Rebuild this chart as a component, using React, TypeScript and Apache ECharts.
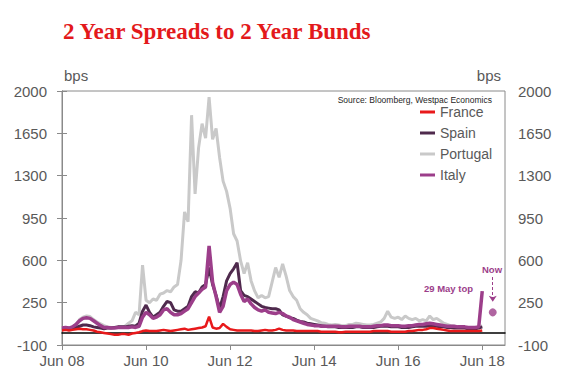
import React, { useEffect, useRef } from 'react';
import * as echarts from 'echarts';

// x = months since Jun 2008 (monthly observations)
const tickMonths = [0, 24, 48, 72, 96, 120];
const tickLabels = ['Jun 08', 'Jun 10', 'Jun 12', 'Jun 14', 'Jun 16', 'Jun 18'];
const yMin = -100;
const yMax = 2000;
const yStep = 350;

const france = [
  20, 25, 20, 25, 30, 35, 30, 30, 25, 20, 10, 5,
  0, -5, -10, -15, -15, -10, -10, -15, -5, 0, 5, 15,
  20, 15, 15, 15, 20, 25, 20, 15, 20, 25, 30, 35,
  25, 30, 35, 40, 45, 55, 135, 45, 35, 40, 75, 50,
  30, 25, 20, 20, 20, 20, 20, 15, 15, 20, 25, 20,
  20, 25, 35, 25, 20, 20, 20, 15, 15, 15, 15, 15,
  15, 15, 10, 10, 10, 10, 10, 5, 5, 10, 10, 10,
  10, 10, 10, 10, 10, 15, 15, 15, 15, 15, 10, 10,
  10, 10, 10, 15, 15, 20, 25, 25, 30, 40, 40, 35,
  30, 25, 20, 15, 15, 15, 15, 15, 15, 15, 15, 15,
  20,
];

const spain = [
  30, 35, 30, 35, 45, 55, 65, 65, 60, 50, 45, 40,
  35, 40, 40, 45, 50, 50, 50, 55, 60, 55, 80, 180,
  230, 170, 130, 150, 170, 220, 260, 250, 190, 180, 180, 200,
  220, 300, 340, 330, 380, 400, 540, 400, 310, 200, 300, 430,
  490, 530, 580, 350, 310, 300, 280, 260, 240, 220, 210, 205,
  200, 200, 190, 150, 140, 125, 120, 105, 95, 90, 80, 75,
  70, 65, 60, 55, 50, 50, 50, 45, 45, 45, 45, 45,
  50, 50, 45, 45, 45, 45, 50, 55, 55, 55, 50, 50,
  50, 45, 45, 45, 50, 55, 55, 55, 55, 60, 55, 55,
  50, 50, 45, 45, 40, 40, 40, 40, 35, 35, 35, 40,
  50,
];

const portugal = [
  40, 45, 40, 50, 70, 110, 130, 140, 135, 110, 90, 75,
  60, 50, 45, 45, 50, 50, 55, 80, 100, 170, 150, 560,
  270, 250, 280, 270, 320, 330, 350, 340, 380, 400, 600, 1000,
  920, 1800, 1150, 1530, 1730, 1610, 1950, 1600, 1690, 1450, 1255, 1170,
  1030, 820, 760, 595, 490, 580, 430, 347, 290, 310, 290, 300,
  420, 540, 460, 570, 470, 350, 300, 270, 200, 170, 150, 120,
  110, 100, 85, 80, 70, 65, 70, 65, 60, 60, 70, 70,
  80, 75, 70, 65, 65, 70, 80, 90, 120, 180, 130, 120,
  130, 110, 140, 120, 110, 120, 100, 110, 100, 140, 110, 120,
  100, 80, 70, 60, 55, 50, 45, 45, 40, 40, 40, 45,
  60,
];

const italy = [
  40, 45, 40, 50, 70, 100, 120, 125, 120, 100, 80, 60,
  45, 45, 40, 40, 45, 45, 45, 45, 50, 45, 55, 130,
  170, 150, 120, 130, 150, 190, 200, 170, 150, 150, 160, 180,
  200, 250, 300, 330, 360, 380, 720, 420, 300, 170, 220, 350,
  400, 420, 400, 320, 260, 280, 240, 210, 190, 180, 190, 170,
  165, 160, 170, 160, 140, 130, 110, 100, 90, 80, 70, 65,
  60, 60, 55, 55, 55, 55, 55, 55, 50, 50, 55, 55,
  55, 55, 50, 50, 50, 55, 60, 60, 65, 65, 60, 60,
  60, 55, 55, 60, 60, 65, 70, 70, 75, 80, 75, 70,
  65, 60, 55, 55, 55, 50, 50, 50, 45, 45, 45, 50,
  345,
];

const nowPoint = [123, 170];
const nowArrowFrom = [123, 462];
const nowArrowTo = [123, 258];

const LABEL = '#595959';
const AXIS = '#8a8a8a';
const PURPLE = '#9C3E8A';
const FONT = '"Liberation Sans", Arial, sans-serif';

const toPairs = (arr: number[]) => arr.map((v, i) => [i, v]);

export default function App() {
  const ref = useRef<HTMLDivElement>(null);
  useEffect(() => {
    if (!ref.current) return;
    const chart = echarts.init(ref.current, undefined, { renderer: 'svg' });
    const yAxisBase = {
      type: 'value',
      min: yMin,
      max: yMax,
      interval: yStep,
      splitLine: { show: false },
      axisLine: { show: true, lineStyle: { color: AXIS, width: 1 } },
      axisTick: { show: true, length: 5, lineStyle: { color: AXIS } },
    };
    const yLabel = {
      color: LABEL,
      fontSize: 15,
      fontFamily: FONT,
      formatter: (v: number) => String(v),
    };
    chart.setOption({
      animation: false,
      grid: {
        left: 62,
        right: 71,
        top: 91,
        bottom: 36,
        show: true,
        borderColor: AXIS,
        borderWidth: 1,
        backgroundColor: 'transparent',
      },
      legend: {
        data: ['France', 'Spain', 'Portugal', 'Italy'],
        orient: 'vertical',
        left: 415,
        top: 100,
        itemWidth: 15,
        itemHeight: 3,
        itemGap: 7,
        icon: 'rect',
        selectedMode: false,
        textStyle: { fontSize: 14, color: LABEL, fontFamily: FONT },
      },
      xAxis: [
        {
          type: 'value',
          min: 0,
          max: 126.5,
          position: 'bottom',
          splitLine: { show: false },
          axisLine: { onZero: false, lineStyle: { color: AXIS, width: 1 } },
          axisTick: { show: true, length: 5, customValues: tickMonths, lineStyle: { color: AXIS } },
          axisLabel: {
            customValues: tickMonths,
            formatter: (v: number) => {
              const i = tickMonths.indexOf(v);
              return i >= 0 ? tickLabels[i] : '';
            },
            color: LABEL,
            fontSize: 15,
            fontFamily: FONT,
            margin: 8,
          },
        },
        {
          type: 'value',
          min: 0,
          max: 126.5,
          position: 'top',
          splitLine: { show: false },
          axisLine: { show: true, onZero: true, lineStyle: { color: '#000', width: 1.5 } },
          axisTick: { show: false },
          axisLabel: { show: false },
        },
      ],
      yAxis: [
        {
          ...yAxisBase,
          position: 'left',
          axisLabel: { ...yLabel, margin: 15 },
        },
        {
          ...yAxisBase,
          position: 'right',
          axisLabel: { ...yLabel, margin: 13 },
        },
      ],
      series: [
        {
          name: 'Portugal',
          type: 'line',
          data: toPairs(portugal),
          showSymbol: false,
          z: 2,
          itemStyle: { color: '#C9C9C9' },
          lineStyle: { color: '#C9C9C9', width: 3 },
        },
        {
          name: 'Spain',
          type: 'line',
          data: toPairs(spain),
          showSymbol: false,
          z: 3,
          itemStyle: { color: '#4F2A4D' },
          lineStyle: { color: '#4F2A4D', width: 3 },
        },
        {
          name: 'Italy',
          type: 'line',
          data: toPairs(italy),
          showSymbol: false,
          z: 4,
          itemStyle: { color: PURPLE },
          lineStyle: { color: PURPLE, width: 3.5 },
        },
        {
          name: 'France',
          type: 'line',
          data: toPairs(france),
          showSymbol: false,
          z: 5,
          itemStyle: { color: '#E8191B' },
          lineStyle: { color: '#E8191B', width: 2.5 },
        },
        {
          name: 'Now',
          type: 'scatter',
          data: [nowPoint],
          symbolSize: 8,
          z: 6,
          itemStyle: { color: PURPLE },
          markLine: {
            silent: true,
            symbol: ['none', 'arrow'],
            symbolSize: 6,
            label: { show: false },
            lineStyle: { color: PURPLE, type: [3, 2], width: 1 },
            data: [[{ coord: nowArrowFrom }, { coord: nowArrowTo }]],
          },
        },
      ],
      graphic: [
        {
          type: 'text',
          left: 63,
          top: 20,
          style: {
            text: '2 Year Spreads to 2 Year Bunds',
            fill: '#E3191B',
            font: 'bold 23px "Liberation Serif", "Times New Roman", serif',
          },
        },
        {
          type: 'text',
          x: 64,
          y: 75,
          style: { text: 'bps', fill: LABEL, font: '15px ' + FONT, align: 'left', verticalAlign: 'middle' },
        },
        {
          type: 'text',
          x: 501,
          y: 75,
          style: { text: 'bps', fill: LABEL, font: '15px ' + FONT, align: 'right', verticalAlign: 'middle' },
        },
        {
          type: 'text',
          x: 492,
          y: 100,
          style: {
            text: 'Source: Bloomberg, Westpac Economics',
            fill: '#262626',
            font: '8.5px ' + FONT,
            align: 'right',
            verticalAlign: 'middle',
          },
        },
        {
          type: 'text',
          x: 448.5,
          y: 288,
          style: {
            text: '29 May top',
            fill: PURPLE,
            font: 'bold 9.5px ' + FONT,
            align: 'center',
            verticalAlign: 'middle',
          },
        },
        {
          type: 'text',
          x: 492,
          y: 269,
          style: {
            text: 'Now',
            fill: PURPLE,
            font: 'bold 9.5px ' + FONT,
            align: 'center',
            verticalAlign: 'middle',
          },
        },
      ],
    });
    return () => chart.dispose();
  }, []);
  return (
    <div
      ref={ref}
      style={{ position: 'fixed', left: 0, top: 0, width: 576, height: 381, background: '#fff' }}
    />
  );
}
